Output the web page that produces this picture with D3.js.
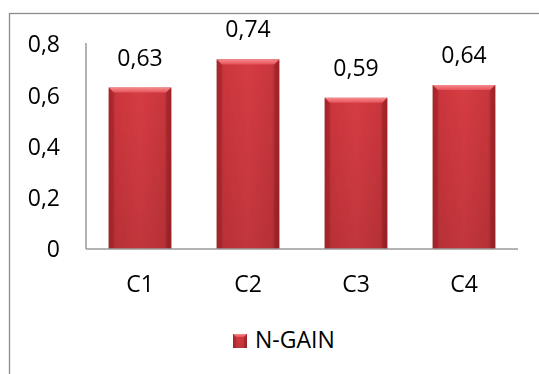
<!DOCTYPE html>
<html>
<head>
<meta charset="utf-8">
<script src="https://cdn.jsdelivr.net/npm/d3@7"></script>
<style>
  html, body { margin: 0; padding: 0; background: #fff; }
  svg { display: block; }
  text { font-family: "Open Sans", "Noto Sans", sans-serif; fill: #000; }
</style>
</head>
<body>
<svg id="chart" width="539" height="374"></svg>
<script>
// N-GAIN per cycle
const categories = ["C1", "C2", "C3", "C4"];
const nGain = [0.63, 0.74, 0.59, 0.64];
const yTicks = [0, 0.2, 0.4, 0.6, 0.8];
const seriesName = "N-GAIN";

const svg = d3.select("#chart");
const plot = { left: 86, right: 518, top: 44, bottom: 249 };
const fmt = v => String(v).replace(".", ",");
const FS = 23;

// Chart frame (runs off the right and bottom edges)
svg.append("rect")
  .attr("x", 9.5).attr("y", 13.5)
  .attr("width", 600).attr("height", 400)
  .attr("fill", "none").attr("stroke", "#8c8c8c").attr("stroke-width", 1.3);

const x = d3.scaleBand()
  .domain(categories)
  .range([plot.left, plot.right])
  .paddingInner(0.42)
  .paddingOuter(0.21);

const y = d3.scaleLinear()
  .domain([0, 0.8])
  .range([plot.bottom, plot.top]);

// Gradients for the bevelled bars
const defs = svg.append("defs");
const body = defs.append("linearGradient").attr("id", "barBody")
  .attr("x1", "0").attr("x2", "1").attr("y1", "0").attr("y2", "0");
body.append("stop").attr("offset", "0").attr("stop-color", "#b02a30");
body.append("stop").attr("offset", "0.12").attr("stop-color", "#cc363c");
body.append("stop").attr("offset", "0.5").attr("stop-color", "#d63c42");
body.append("stop").attr("offset", "0.88").attr("stop-color", "#c9363c");
body.append("stop").attr("offset", "1").attr("stop-color", "#a8282d");

const vshade = defs.append("linearGradient").attr("id", "barShade")
  .attr("x1", "0").attr("x2", "0").attr("y1", "0").attr("y2", "1");
vshade.append("stop").attr("offset", "0").attr("stop-color", "#000").attr("stop-opacity", 0);
vshade.append("stop").attr("offset", "1").attr("stop-color", "#000").attr("stop-opacity", 0.1);

const topBevel = defs.append("linearGradient").attr("id", "barTop")
  .attr("x1", "0").attr("x2", "0").attr("y1", "0").attr("y2", "1");
topBevel.append("stop").attr("offset", "0").attr("stop-color", "#f58a8c");
topBevel.append("stop").attr("offset", "1").attr("stop-color", "#e6525a");

const blur = defs.append("filter").attr("id", "soft")
  .attr("x", "-5%").attr("y", "-5%").attr("width", "110%").attr("height", "110%");
blur.append("feGaussianBlur").attr("stdDeviation", 0.6);

function drawBar(g, x0, y0, w, h, bevel) {
  g.append("rect").attr("x", x0).attr("y", y0).attr("width", w).attr("height", h)
    .attr("fill", "url(#barBody)");
  g.append("rect").attr("x", x0).attr("y", y0).attr("width", w).attr("height", h)
    .attr("fill", "url(#barShade)");
  // top bevel facet
  g.append("path")
    .attr("d", `M${x0},${y0} L${x0 + w},${y0} L${x0 + w - bevel},${y0 + bevel} L${x0 + bevel},${y0 + bevel} Z`)
    .attr("fill", "url(#barTop)");
  // side facets
  g.append("path")
    .attr("d", `M${x0},${y0} L${x0 + bevel},${y0 + bevel} L${x0 + bevel},${y0 + h} L${x0},${y0 + h} Z`)
    .attr("fill", "#9a2227").attr("opacity", 0.45);
  g.append("path")
    .attr("d", `M${x0 + w},${y0} L${x0 + w - bevel},${y0 + bevel} L${x0 + w - bevel},${y0 + h} L${x0 + w},${y0 + h} Z`)
    .attr("fill", "#8e1f24").attr("opacity", 0.45);
}

// Bars
const bars = svg.append("g").attr("filter", "url(#soft)");
categories.forEach((c, i) => {
  const v = nGain[i];
  drawBar(bars.append("g"), x(c), y(v), x.bandwidth(), y(0) - y(v), 5);
});

// Axis lines (no tick marks)
svg.append("line")
  .attr("x1", plot.left).attr("x2", plot.left)
  .attr("y1", y(0.8) - 1).attr("y2", y(0))
  .attr("stroke", "#9a9a9a").attr("stroke-width", 1.5);
svg.append("line")
  .attr("x1", plot.left).attr("x2", plot.right)
  .attr("y1", y(0)).attr("y2", y(0))
  .attr("stroke", "#9a9a9a").attr("stroke-width", 1.5);

// Y tick labels
svg.append("g").selectAll("text").data(yTicks).join("text")
  .attr("x", 60).attr("y", d => y(d))
  .attr("dy", "0.36em")
  .attr("text-anchor", "end")
  .attr("font-size", FS)
  .text(d => fmt(d));

// Category labels
svg.append("g").selectAll("text").data(categories).join("text")
  .attr("x", d => x(d) + x.bandwidth() / 2)
  .attr("y", 292)
  .attr("text-anchor", "middle")
  .attr("font-size", FS)
  .text(d => d);

// Value labels
svg.append("g").selectAll("text").data(categories).join("text")
  .attr("x", d => x(d) + x.bandwidth() / 2)
  .attr("y", (d, i) => y(nGain[i]) - 22)
  .attr("text-anchor", "middle")
  .attr("font-size", FS)
  .text((d, i) => fmt(nGain[i]));

// Legend
const lg = svg.append("g").attr("filter", "url(#soft)");
drawBar(lg, 233, 334, 14, 14, 3);
svg.append("text")
  .attr("x", 255).attr("y", 348)
  .attr("font-size", FS)
  .text(seriesName);
</script>
</body>
</html>
